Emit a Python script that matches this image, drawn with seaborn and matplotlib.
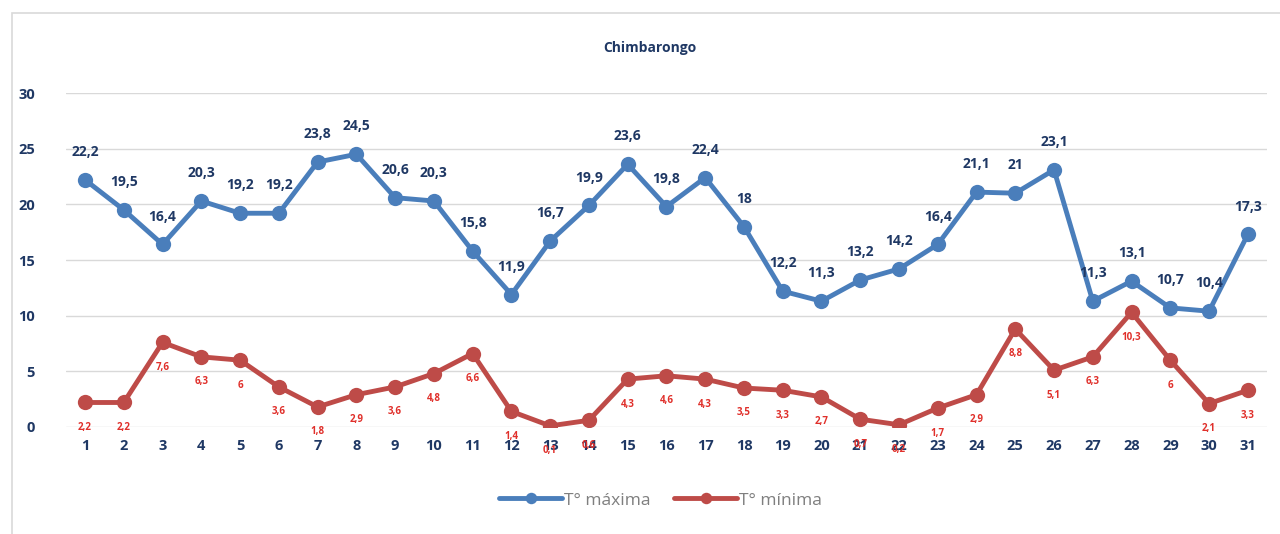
import numpy as np
import pandas as pd
import seaborn as sns
from matplotlib import pyplot as plt
from matplotlib.patches import Rectangle

# Chimbarongo daily temperatures
days = list(range(1, 32))
t_max = [22.2, 19.5, 16.4, 20.3, 19.2, 19.2, 23.8, 24.5, 20.6, 20.3, 15.8, 11.9, 16.7, 19.9, 23.6, 19.8,
         22.4, 18, 12.2, 11.3, 13.2, 14.2, 16.4, 21.1, 21, 23.1, 11.3, 13.1, 10.7, 10.4, 17.3]
t_min = [2.2, 2.2, 7.6, 6.3, 6, 3.6, 1.8, 2.9, 3.6, 4.8, 6.6, 1.4, 0.1, 0.6, 4.3, 4.6,
         4.3, 3.5, 3.3, 2.7, 0.7, 0.2, 1.7, 2.9, 8.8, 5.1, 6.3, 10.3, 6, 2.1, 3.3]
series_names = ['T° máxima', 'T° mínima']
title = 'Chimbarongo'

blue = '#4A7EBB'
red = '#BE4B48'
navy = '#1F3864'

sns.set_style('white')
plt.rcParams['font.family'] = ['Open Sans', 'DejaVu Sans']

df = pd.DataFrame({
    'day': days * 2,
    'temp': t_max + t_min,
    'serie': [series_names[0]] * len(days) + [series_names[1]] * len(days),
})

fig = plt.figure(figsize=(12.8, 5.34), dpi=100)
ax = fig.add_axes([0.0513, 0.2004, 0.9387, 0.6254])

sns.lineplot(data=df, x='day', y='temp', hue='serie', palette=[blue, red],
             marker='o', markersize=11, markeredgewidth=0, linewidth=3.5, ax=ax)

ax.set_xlim(0.5, 31.5)
ax.set_ylim(0, 30)
ax.set_yticks([0, 5, 10, 15, 20, 25, 30])
ax.set_xticks(days)
ax.yaxis.grid(True, color='#D9D9D9', linewidth=1)
ax.set_axisbelow(True)
for s in ax.spines.values():
    s.set_visible(False)
ax.tick_params(length=0, labelsize=10.5, labelcolor=navy, pad=9)
ax.tick_params(axis='y', pad=22)
for lbl in ax.get_xticklabels() + ax.get_yticklabels():
    lbl.set_fontweight('bold')
ax.set_xlabel('')
ax.set_ylabel('')

def fmt(v):
    s = f'{v:g}'
    return s.replace('.', ',')

for d, v in zip(days, t_max):
    ax.annotate(fmt(v), (d, v), xytext=(0, 15), textcoords='offset points',
                ha='center', va='bottom', fontsize=10, fontweight='bold', color=navy)
for d, v in zip(days, t_min):
    ax.annotate(fmt(v), (d, v), xytext=(0, -14), textcoords='offset points',
                ha='center', va='top', fontsize=7, fontweight='bold', color='#E0302B')

fig.text(0.508, 0.91, title, ha='center', va='center', fontsize=10,
         fontweight='bold', color=navy)

leg = ax.legend(loc='center', bbox_to_anchor=(0.495, -0.22), ncol=2, frameon=False,
                fontsize=12.5, handlelength=3.6, columnspacing=1.4, handletextpad=0.1,
                markerscale=0.75)
for t in leg.get_texts():
    t.set_color('#7F7F7F')

fig.patches.append(Rectangle((12 / 1280, -0.01), 1.0, 1 - 13 / 534 + 0.01,
                             transform=fig.transFigure, fill=False,
                             edgecolor='#D9D9D9', linewidth=1.2))

fig.savefig('out.png', dpi=100)
